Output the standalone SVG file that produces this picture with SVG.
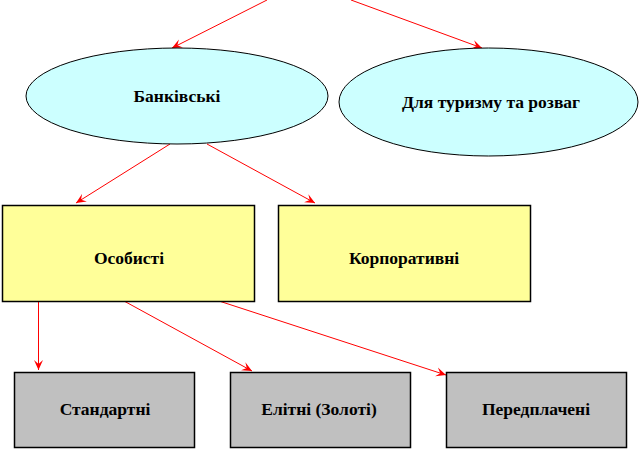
<svg xmlns="http://www.w3.org/2000/svg" width="642" height="452" viewBox="0 0 642 452">
<style>
.ell{fill:#CCFFFF;stroke:#000;stroke-width:1}
.y{fill:#FFFF99;stroke:#000;stroke-width:1.5}
.g{fill:#C0C0C0;stroke:#000;stroke-width:1.5}
.t{font-family:"Liberation Serif","Times New Roman",serif;font-weight:bold;font-size:17.5px;fill:#000;text-anchor:middle}
.c{stroke:#FF0000;stroke-width:1;fill:none;marker-end:url(#ah)}
</style>
<defs>
<marker id="ah" viewBox="-10 -5 11 10" refX="0" refY="0" markerWidth="11" markerHeight="10" markerUnits="userSpaceOnUse" orient="auto">
<path d="M0,0 L-10,-4.5 L-6,0 L-10,4.5 Z" fill="#FF0000"/>
</marker>
</defs>
<g id="connectors">
<line class="c" x1="267" y1="0" x2="172" y2="48"/>
<line class="c" x1="351" y1="0" x2="482" y2="48"/>
<line class="c" x1="170" y1="144" x2="76" y2="203"/>
<line class="c" x1="207" y1="144" x2="315" y2="203"/>
<line class="c" x1="38.5" y1="301" x2="38.5" y2="370"/>
<line class="c" x1="124" y1="301" x2="252" y2="371"/>
<line class="c" x1="219" y1="301" x2="446" y2="375"/>
</g>
<g id="n-bank">
<ellipse class="ell" cx="177" cy="96" rx="151" ry="48"/>
<text class="t" x="177" y="102">Банківські</text>
</g>
<g id="n-tour">
<ellipse class="ell" cx="488.5" cy="102" rx="149.5" ry="54"/>
<text class="t" x="491" y="108">Для туризму та розваг</text>
</g>
<g id="n-personal">
<rect class="y" x="2.5" y="205.5" width="252" height="96"/>
<text class="t" x="129" y="264">Особисті</text>
</g>
<g id="n-corp">
<rect class="y" x="278.5" y="205.5" width="252" height="96"/>
<text class="t" x="404" y="264">Корпоративні</text>
</g>
<g id="n-std">
<rect class="g" x="14.5" y="372.5" width="180" height="75"/>
<text class="t" x="105" y="415">Стандартні</text>
</g>
<g id="n-elite">
<rect class="g" x="230.5" y="372.5" width="180" height="75"/>
<text class="t" x="319" y="415">Елітні (Золоті)</text>
</g>
<g id="n-prepaid">
<rect class="g" x="446.5" y="372.5" width="180" height="75"/>
<text class="t" x="536" y="415">Передплачені</text>
</g>
</svg>
